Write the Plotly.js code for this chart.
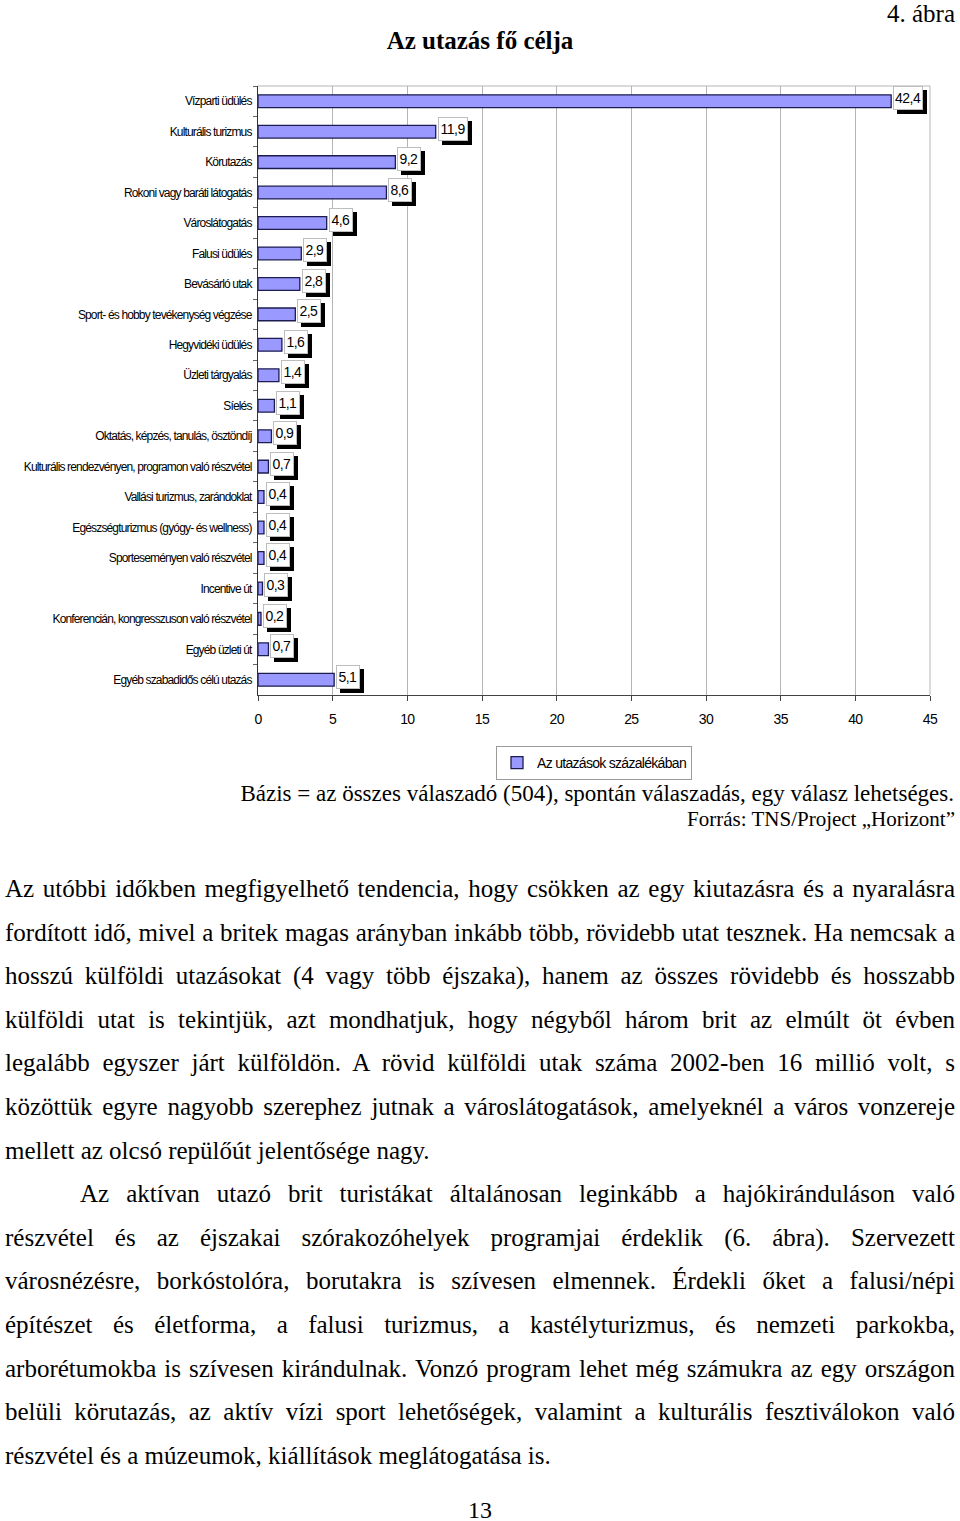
<!DOCTYPE html>
<html>
<head>
<meta charset="utf-8">
<script src="https://cdn.plot.ly/plotly-3.0.1.min.js"></script>
<style>
  html, body { margin:0; padding:0; background:#fff; }
  body { width:960px; height:1521px; position:relative; overflow:hidden;
         font-family:"Liberation Serif","Times New Roman",serif; color:#000; }
  #chart { position:absolute; left:0; top:0; width:960px; height:800px; }
  .note { position:absolute; right:6px; white-space:nowrap; }
  #fig { position:absolute; right:5px; top:0px; font-size:25px; }
  #body { position:absolute; left:5px; top:867px; width:950px; font-size:25px; line-height:43.6px; }
  #body div { text-align:justify; text-align-last:justify; white-space:nowrap; height:43.6px; }
  #body div.last { text-align-last:left; }
  #body div.indent { padding-left:75px; }
  #page { position:absolute; left:0; width:960px; top:1497px; text-align:center; font-size:24px; }
  .ytick text { letter-spacing:-0.85px; }
  .xtick text { letter-spacing:-0.6px; }
  .legendtext { letter-spacing:-0.7px; }
  .annotation-text { letter-spacing:-0.5px; }
</style>
</head>
<body>
<div id="chart"></div>
<div id="fig"></div>
<div class="note" id="bazis" style="top:781px; font-size:23px;"></div>
<div class="note" id="forras" style="top:807px; font-size:21px; right:5px;"></div>
<div id="body"></div>
<div id="page"></div>
<script>
// ---- data ----
const categories = [
  "Vízparti üdülés",
  "Kulturális turizmus",
  "Körutazás",
  "Rokoni vagy baráti látogatás",
  "Városlátogatás",
  "Falusi üdülés",
  "Bevásárló utak",
  "Sport- és hobby tevékenység végzése",
  "Hegyvidéki üdülés",
  "Üzleti tárgyalás",
  "Síelés",
  "Oktatás, képzés, tanulás, ösztöndíj",
  "Kulturális rendezvényen, programon való részvétel",
  "Vallási turizmus, zarándoklat",
  "Egészségturizmus (gyógy- és wellness)",
  "Sporteseményen való részvétel",
  "Incentive út",
  "Konferencián, kongresszuson való részvétel",
  "Egyéb üzleti út",
  "Egyéb szabadidős célú utazás"
];
const values = [42.4, 11.9, 9.2, 8.6, 4.6, 2.9, 2.8, 2.5, 1.6, 1.4, 1.1, 0.9, 0.7, 0.4, 0.4, 0.4, 0.3, 0.2, 0.7, 5.1];
const seriesName = "Az utazások százalékában";
const xTickValues = [0, 5, 10, 15, 20, 25, 30, 35, 40, 45];
const chartTitle = "Az utazás fő célja";
const figureLabel = "4. ábra";
const baseNote = "Bázis = az összes válaszadó (504), spontán válaszadás, egy válasz lehetséges.";
const sourceNote = "Forrás: TNS/Project „Horizont”";
const pageNumber = "13";

const paragraph1 = [
  "Az utóbbi időkben megfigyelhető tendencia, hogy csökken az egy kiutazásra és a nyaralásra",
  "fordított idő, mivel a britek magas arányban inkább több, rövidebb utat tesznek. Ha nemcsak a",
  "hosszú külföldi utazásokat (4 vagy több éjszaka), hanem az összes rövidebb és hosszabb",
  "külföldi utat is tekintjük, azt mondhatjuk, hogy négyből három brit az elmúlt öt évben",
  "legalább egyszer járt külföldön. A rövid külföldi utak száma 2002-ben 16 millió volt, s",
  "közöttük egyre nagyobb szerephez jutnak a városlátogatások, amelyeknél a város vonzereje",
  "mellett az olcsó repülőút jelentősége nagy."
];
const paragraph2 = [
  "Az aktívan utazó brit turistákat általánosan leginkább a hajókiránduláson való",
  "részvétel és az éjszakai szórakozóhelyek programjai érdeklik (6. ábra). Szervezett",
  "városnézésre, borkóstolóra, borutakra is szívesen elmennek. Érdekli őket a falusi/népi",
  "építészet és életforma, a falusi turizmus, a kastélyturizmus, és nemzeti parkokba,",
  "arborétumokba is szívesen kirándulnak. Vonzó program lehet még számukra az egy országon",
  "belüli körutazás, az aktív vízi sport lehetőségek, valamint a kulturális fesztiválokon való",
  "részvétel és a múzeumok, kiállítások meglátogatása is."
];

// ---- page text ----
document.getElementById('fig').textContent = figureLabel;
document.getElementById('bazis').textContent = baseNote;
document.getElementById('forras').textContent = sourceNote;
document.getElementById('page').textContent = pageNumber;
const bodyEl = document.getElementById('body');
function addPara(lines, indentFirst) {
  lines.forEach((t, i) => {
    const d = document.createElement('div');
    d.textContent = t;
    const cls = [];
    if (i === 0 && indentFirst) cls.push('indent');
    if (i === lines.length - 1) cls.push('last');
    d.className = cls.join(' ');
    bodyEl.appendChild(d);
  });
}
addPara(paragraph1, false);
addPara(paragraph2, true);

// ---- chart ----
const SANS = '"Liberation Sans", Arial, sans-serif';
const labels = values.map(v => v.toFixed(1).replace('.', ','));

const trace = {
  type: 'bar',
  orientation: 'h',
  x: values,
  y: categories,
  name: seriesName,
  width: 0.42,
  marker: { color: '#9999FF', line: { color: '#1c1c50', width: 1.3 } },
  hoverinfo: 'x+y',
  showlegend: true
};

const annotations = [];
values.forEach((v, i) => {
  const w = labels[i].length * 6.5;
  // shadow box (no text)
  annotations.push({
    x: v, y: categories[i], xref: 'x', yref: 'y',
    text: '\u00a0', showarrow: false, xanchor: 'left', yanchor: 'middle',
    xshift: 6, yshift: -1, width: w, height: 20,
    font: { family: SANS, size: 14, color: '#000' },
    bgcolor: '#000', bordercolor: '#000', borderwidth: 1, borderpad: 1
  });
  // label box
  annotations.push({
    x: v, y: categories[i], xref: 'x', yref: 'y',
    text: labels[i], showarrow: false, xanchor: 'left', yanchor: 'middle',
    xshift: 2, yshift: 3, width: w, height: 20,
    font: { family: SANS, size: 14, color: '#000' },
    bgcolor: '#fff', bordercolor: '#bdbdbd', borderwidth: 1, borderpad: 1
  });
});

const layout = {
  width: 960, height: 800,
  margin: { l: 258, r: 30, t: 86, b: 105 },
  paper_bgcolor: 'rgba(0,0,0,0)', plot_bgcolor: '#fff',
  title: {
    text: '<b>' + chartTitle + '</b>',
    xref: 'container', yref: 'container', x: 0.5, y: 1 - 40 / 800,
    xanchor: 'center', yanchor: 'middle',
    font: { family: '"Liberation Serif", "Times New Roman", serif', size: 25, color: '#000' }
  },
  xaxis: {
    range: [0, 45], tickvals: xTickValues, ticktext: xTickValues.map(String),
    showgrid: true, gridcolor: '#b5b5b5', gridwidth: 1,
    zeroline: false, showline: true, linecolor: '#444', linewidth: 1,
    ticks: 'outside', ticklen: 5, tickcolor: '#444',
    tickfont: { family: SANS, size: 14, color: '#000' },
    ticklabelstandoff: 6, fixedrange: true, automargin: false
  },
  yaxis: {
    type: 'category', autorange: 'reversed',
    showgrid: false, zeroline: false,
    showline: true, linecolor: '#333', linewidth: 1,
    ticks: 'outside', tickson: 'boundaries', ticklen: 4, tickcolor: '#666',
    tickfont: { family: SANS, size: 12, color: '#000' },
    ticklabelstandoff: 3, fixedrange: true, automargin: false
  },
  legend: {
    orientation: 'h', x: 0.5, xanchor: 'center', y: -51 / 609, yanchor: 'top',
    bordercolor: '#9a9a9a', borderwidth: 1, bgcolor: '#fff',
    font: { family: SANS, size: 14, color: '#000' },
    itemwidth: 30
  },
  shapes: [
    { type: 'line', xref: 'paper', yref: 'paper', x0: 0, x1: 1, y0: 1, y1: 1, line: { color: '#b5b5b5', width: 1 } },
    { type: 'line', xref: 'paper', yref: 'paper', x0: 1, x1: 1, y0: 0, y1: 1, line: { color: '#b5b5b5', width: 1 } }
  ],
  annotations: annotations
};

Plotly.newPlot('chart', [trace], layout, { displayModeBar: false, staticPlot: true });
</script>
</body>
</html>
